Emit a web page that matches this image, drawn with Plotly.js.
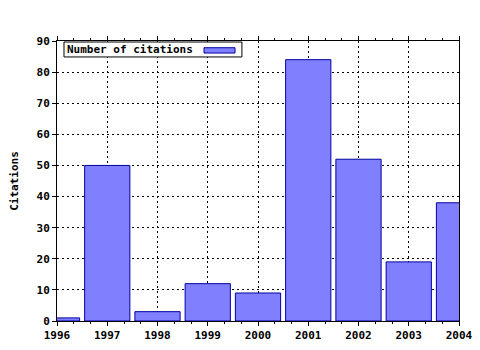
<!DOCTYPE html>
<html><head><meta charset="utf-8">
<script src="https://cdn.plot.ly/plotly-3.0.1.min.js"></script>
<style>body{margin:0;background:#fff}#c{width:480px;height:350px}</style>
</head><body><div id="c"></div>
<script>
const years = [1996, 1997, 1998, 1999, 2000, 2001, 2002, 2003, 2004];
const citations = [1, 50, 3, 12, 9, 84, 52, 19, 38];
const seriesName = 'Number of citations';
const yTitle = 'Citations';

const F = {family: '"DejaVu Sans Mono", monospace', size: 11, color: '#000', weight: 'bold'};
const barColor = '#8080ff', barLine = '#0000a0';

Plotly.newPlot('c', [{
  type: 'bar', x: years, y: citations, name: seriesName, width: 0.9,
  marker: {color: barColor, line: {color: barLine, width: 1}},
  showlegend: false
}], {
  width: 480, height: 350,
  margin: {l: 57, r: 21, t: 41, b: 29},
  paper_bgcolor: '#fff', plot_bgcolor: '#fff',
  font: F,
  xaxis: {range: [1996, 2004], tickmode: 'linear', tick0: 1996, dtick: 1,
    showline: true, linecolor: '#000', linewidth: 1, mirror: 'allticks',
    ticks: 'outside', ticklen: 4, tickcolor: '#000',
    minor: {dtick: 1/3, tick0: 1996, ticks: 'outside', ticklen: 2, tickcolor: '#000', showgrid: false},
    showgrid: true, gridcolor: '#000', griddash: '2px,3px', gridwidth: 1,
    zeroline: false, tickfont: F},
  yaxis: {range: [0, 90], dtick: 10, tick0: 0,
    showline: true, linecolor: '#000', linewidth: 1, mirror: true,
    ticks: 'outside', ticklen: 4, tickcolor: '#000',
    showgrid: true, gridcolor: '#000', griddash: '2px,3px', gridwidth: 1,
    zeroline: false, tickfont: F,
    title: {text: yTitle, font: F, standoff: 15}},
  showlegend: false,
  shapes: [
    {type: 'rect', xref: 'paper', yref: 'paper', x0: 0.0174, x1: 0.460, y0: 0.943, y1: 0.9964,
     fillcolor: '#fff', line: {color: '#000', width: 1}, layer: 'above'},
    {type: 'rect', xref: 'paper', yref: 'paper', x0: 0.3657, x1: 0.4428, y0: 0.957, y1: 0.976,
     fillcolor: barColor, line: {color: barLine, width: 1}, layer: 'above'}
  ],
  annotations: [{
    xref: 'paper', yref: 'paper', x: 0.0199, y: 0.969, xanchor: 'left', yanchor: 'middle',
    text: seriesName, showarrow: false, align: 'left', font: F
  }]
}, {displayModeBar: false, staticPlot: true});
</script></body></html>
